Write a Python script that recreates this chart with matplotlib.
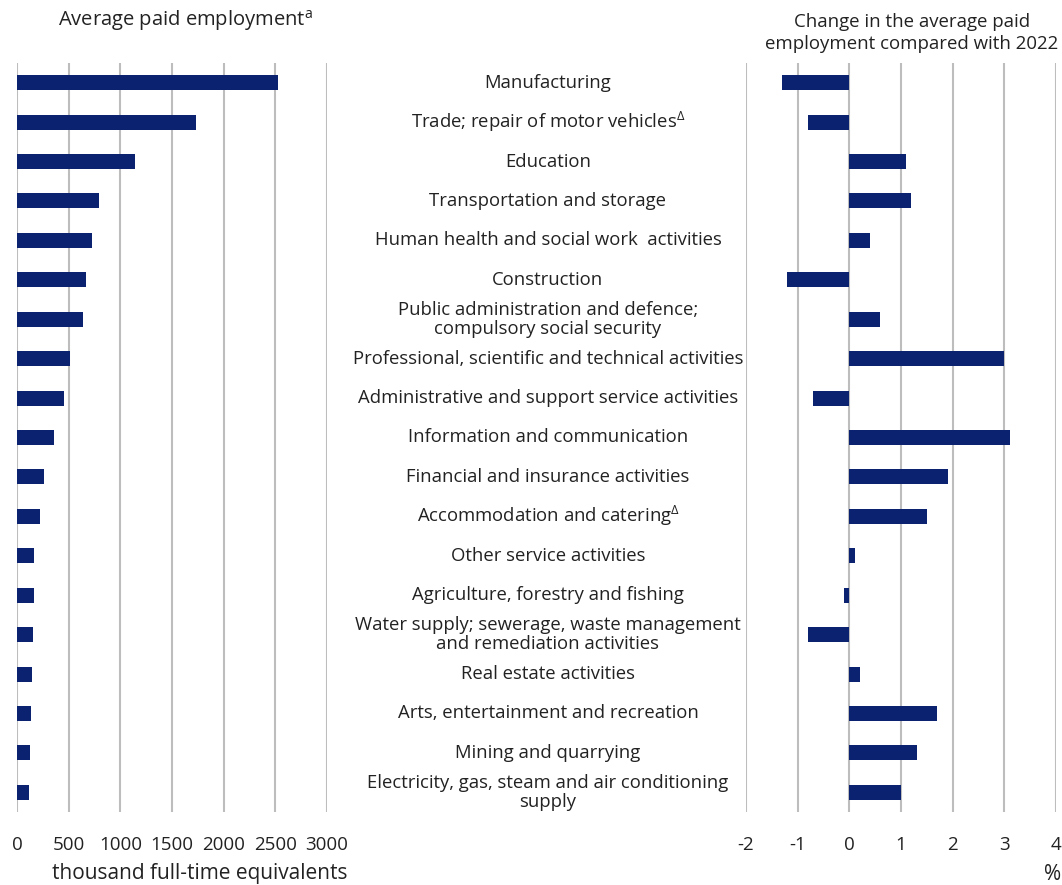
import matplotlib
matplotlib.use("Agg")
import matplotlib.pyplot as plt
import matplotlib.transforms as mtransforms

plt.rcParams['font.family'] = ['Open Sans', 'DejaVu Sans']
plt.rcParams['mathtext.fontset'] = 'custom'
plt.rcParams['mathtext.rm'] = 'Open Sans'
plt.rcParams['mathtext.it'] = 'Open Sans'

categories = [
    "Manufacturing",
    "Trade; repair of motor vehicles$^{\\Delta}$",
    "Education",
    "Transportation and storage",
    "Human health and social work  activities",
    "Construction",
    "Public administration and defence;\ncompulsory social security",
    "Professional, scientific and technical activities",
    "Administrative and support service activities",
    "Information and communication",
    "Financial and insurance activities",
    "Accommodation and catering$^{\\Delta}$",
    "Other service activities",
    "Agriculture, forestry and fishing",
    "Water supply; sewerage, waste management\nand remediation activities",
    "Real estate activities",
    "Arts, entertainment and recreation",
    "Mining and quarrying",
    "Electricity, gas, steam and air conditioning\nsupply",
]
employment = [2525, 1730, 1140, 795, 725, 668, 636, 513, 458, 355, 265,
              220, 168, 161, 158, 145, 139, 129, 116]
change = [-1.3, -0.8, 1.1, 1.2, 0.4, -1.2, 0.6, 3.0, -0.7, 3.1, 1.9,
          1.5, 0.1, -0.1, -0.8, 0.2, 1.7, 1.3, 1.0]

left_ticks = [0, 500, 1000, 1500, 2000, 2500, 3000]
right_ticks = [-2, -1, 0, 1, 2, 3, 4]

BAR = '#0a2270'
GRID = '#bdbdbd'
TXT = '#222222'
FS_CAT = 13.3
FS_TICK = 13.5
FS_TITLE = 14.5

fig = plt.figure(figsize=(10.62, 8.85), dpi=100)
ax1 = fig.add_axes([17 / 1062, 1 - 812 / 885, 310 / 1062, 749 / 885])
ax2 = fig.add_axes([746 / 1062, 1 - 812 / 885, 310 / 1062, 749 / 885])

ys = list(range(len(categories)))
ax1.barh(ys, employment, height=0.38, color=BAR, zorder=3)
ax2.barh(ys, change, height=0.38, color=BAR, zorder=3)

for ax, ticks in ((ax1, left_ticks), (ax2, right_ticks)):
    ax.set_xlim(ticks[0], ticks[-1])
    ax.set_ylim(len(categories) - 0.5, -0.5)
    ax.set_xticks(ticks)
    ax.set_xticklabels([str(t) for t in ticks])
    ax.set_yticks([])
    for s in ax.spines.values():
        s.set_visible(False)
    ax.grid(axis='x', color=GRID, linewidth=1.5, zorder=0)
    ax.tick_params(axis='x', length=0, pad=17, labelsize=FS_TICK, labelcolor=TXT)

trans = mtransforms.blended_transform_factory(fig.transFigure, ax1.transData)
for y, lab in zip(ys, categories):
    ax1.text(548 / 1062, y, lab, transform=trans, ha='center', va='center',
             fontsize=FS_CAT, color=TXT, linespacing=1.05, clip_on=False)

fig.text(185 / 1062, 1 - 20 / 885, "Average paid employment$^{\\mathrm{a}}$",
         ha='center', va='center', fontsize=FS_TITLE, color=TXT)
fig.text(912 / 1062, 1 - 33 / 885,
         "Change in the average paid\nemployment compared with 2022",
         ha='center', va='center', fontsize=13.4, color=TXT, linespacing=1.25)
fig.text(200 / 1062, 1 - 874 / 885, "thousand full-time equivalents",
         ha='center', va='center', fontsize=15, color=TXT)
fig.text(1053 / 1062, 1 - 874 / 885, "%", ha='center', va='center',
         fontsize=15, color=TXT)

fig.savefig("out.png", dpi=100)
